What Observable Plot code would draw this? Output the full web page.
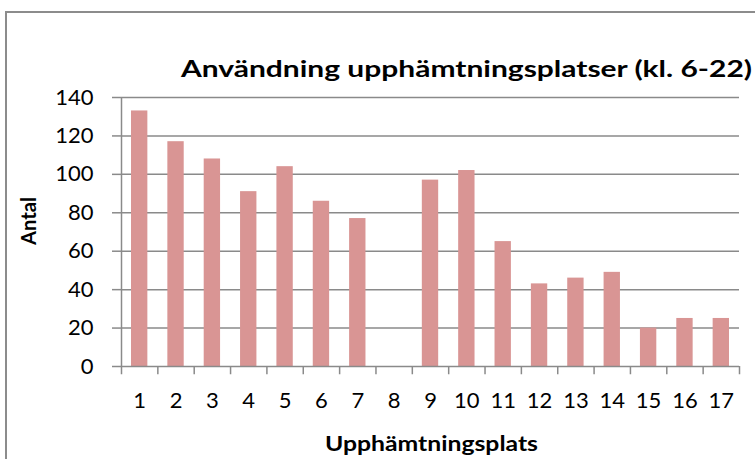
<!DOCTYPE html>
<html>
<head>
<meta charset="utf-8">
<script src="https://cdn.jsdelivr.net/npm/d3@7"></script>
<script src="https://cdn.jsdelivr.net/npm/@observablehq/plot@0.6"></script>
<style>
  html, body { margin: 0; padding: 0; background: #fff; }
  #wrap { position: relative; width: 755px; height: 459px; overflow: hidden; background: #fff; }
  #border { position: absolute; left: 5px; top: 11px; width: 900px; height: 600px;
            border-left: 2.5px solid #8c8c8c; border-top: 2.5px solid #8c8c8c; pointer-events: none; }
  svg { font-family: Lato, "Open Sans", sans-serif; }
</style>
</head>
<body>
<div id="wrap"><div id="border"></div></div>
<script>
const title = "Användning upphämtningsplatser (kl. 6-22)";
const yTitle = "Antal";
const xTitle = "Upphämtningsplats";
const categories = ["1","2","3","4","5","6","7","8","9","10","11","12","13","14","15","16","17"];
const values = [133, 117, 108, 91, 104, 86, 77, 0, 97, 102, 65, 43, 46, 49, 20, 25, 25];
const yTicks = [0, 20, 40, 60, 80, 100, 120, 140];

const data = categories.map((c, i) => ({cat: c, value: values[i]}));

const W = 755, H = 459, mL = 121, mR = 16, mT = 97, mB = 93;
const step = (W - mL - mR) / categories.length;
const grid = "#8a8a8a";
const barColor = "#d99594";

const chart = Plot.plot({
  width: W,
  height: H,
  marginLeft: mL,
  marginRight: mR,
  marginTop: mT,
  marginBottom: mB,
  style: {fontFamily: "Lato, 'Open Sans', sans-serif", color: "#000", background: "transparent"},
  x: {type: "band", domain: categories, paddingInner: 0.55, paddingOuter: 0.275, round: false, label: null},
  y: {domain: [0, 140], label: null},
  marks: [
    Plot.ruleY(yTicks.filter(d => d > 0), {stroke: grid, strokeWidth: 1.5}),
    Plot.barY(data, {x: "cat", y: "value", fill: barColor}),
    Plot.ruleY([0], {stroke: grid, strokeWidth: 1.5}),
    Plot.ruleX([categories[0]], {y1: 0, y2: 140, dx: -step / 2, stroke: grid, strokeWidth: 1.5}),
    Plot.ruleX(categories, {y1: 0, y2: -4.3, dx: -step / 2, stroke: grid, strokeWidth: 1.5}),
    Plot.ruleX([categories[categories.length - 1]], {y1: 0, y2: -4.3, dx: step / 2, stroke: grid, strokeWidth: 1.5}),
    Plot.axisY({ticks: yTicks, tickSize: 9, tickPadding: 19, stroke: grid, strokeWidth: 1.5,
                fontSize: 22, fill: "#000", label: null}),
    Plot.axisX({tickSize: 0, tickPadding: 26, fontSize: 22, fill: "#000", label: null}),
    Plot.text([title], {frameAnchor: "top", dx: 36, dy: -21, lineAnchor: "bottom",
                        fontSize: 23, fontWeight: "bold", fill: "#000"}),
    Plot.text([yTitle], {frameAnchor: "left", dx: -92, dy: -11, rotate: -90, lineAnchor: "middle",
                         textAnchor: "middle", fontSize: 20, fontWeight: "bold", fill: "#000"}),
    Plot.text([xTitle], {frameAnchor: "bottom", dx: 1, dy: 84, lineAnchor: "bottom",
                         fontSize: 21, fontWeight: "bold", fill: "#000"})
  ]
});
// widen bold titles to match the reference's wider face
const lengths = new Map([[title, 571], [xTitle, 213], [yTitle, 48]]);
d3.select(chart).selectAll("text").each(function() {
  const t = this.textContent;
  if (lengths.has(t)) {
    this.setAttribute("textLength", lengths.get(t));
    this.setAttribute("lengthAdjust", "spacingAndGlyphs");
  }
});
document.getElementById("wrap").insertBefore(chart, document.getElementById("border"));
</script>
</body>
</html>
